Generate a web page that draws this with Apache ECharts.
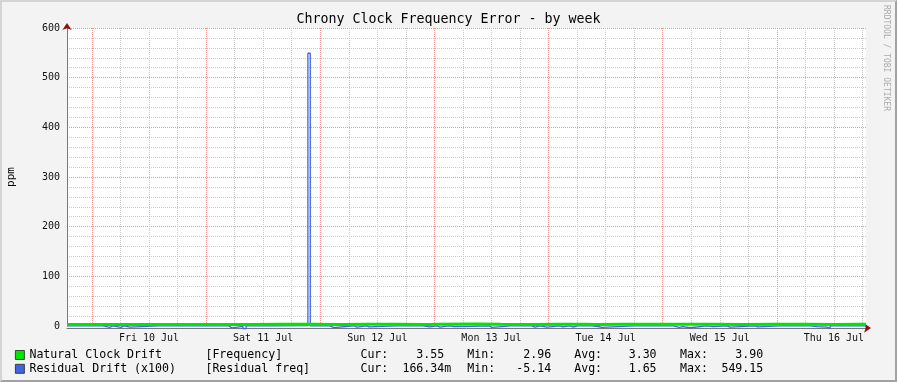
<!DOCTYPE html>
<html><head><meta charset="utf-8">
<script src="https://cdn.jsdelivr.net/npm/echarts@6/dist/echarts.min.js"></script>
<style>
html,body{margin:0;padding:0;background:#f3f3f3}
#wrap{position:relative;width:897px;height:382px}
#c{width:897px;height:382px}
#frame{position:absolute;left:0;top:0;width:897px;height:382px;box-sizing:border-box;border-top:2px solid #d4d4d4;border-left:2px solid #d4d4d4;border-right:2px solid #a2a2a2;border-bottom:2px solid #a2a2a2;pointer-events:none}
</style>
</head><body>
<div id="wrap"><div id="c"></div><div id="frame"></div></div>
<script>
// ---- data ----
const titleText = 'Chrony Clock Frequency Error - by week';
const seriesNames = ['Natural Clock Drift', 'Residual Drift (x100)'];
const seriesSources = ['[Frequency]', '[Residual freq]'];
const curValues = ['3.55', '166.34'];
const curUnits = [' ', 'm'];
const minValues = ['2.96', '-5.14'];
const avgValues = ['3.30', '1.65'];
const maxValues = ['3.90', '549.15'];

// hours relative to Fri 10 Jul 00:00
const startHour = -5.25;
const endHour = 162.75;
const dayLabels = ['Fri 10 Jul', 'Sat 11 Jul', 'Sun 12 Jul', 'Mon 13 Jul', 'Tue 14 Jul', 'Wed 15 Jul', 'Thu 16 Jul'];
const labelHours = [12, 36, 60, 84, 108, 132, 156];
const midnightHours = [0, 24, 48, 72, 96, 120, 144];
const sixHourMarks = [6, 12, 18, 30, 36, 42, 54, 60, 66, 78, 84, 90, 102, 108, 114, 126, 132, 138, 150, 156, 162];
// y grid values (ppm)
const yMajorTicks = [100, 200, 300, 400, 500, 600];
const yMinorTicks = [20, 40, 60, 80, 120, 140, 160, 180, 220, 240, 260, 280, 320, 340, 360, 380, 420, 440, 460, 480, 520, 540, 560, 580];

// Natural Clock Drift (ppm), value holds from each hour to the next
const driftHours = [-5.25, -1.0, 4.5, 10.0, 16.5, 22.0, 27.5, 33.0, 40.0, 46.5, 52.0, 58.5, 64.0, 70.5, 73.0, 80.5, 86.0, 92.0, 98.5, 104.0, 106.0, 111.5, 118.0, 124.0, 130.5, 137.0, 143.5, 150.0, 156.5, 161.0, 162.75];
const driftValues = [3.18, 3.12, 3.05, 2.96, 3.10, 3.22, 3.15, 3.28, 3.35, 3.20, 3.31, 3.42, 3.27, 3.48, 3.90, 3.36, 3.25, 3.40, 3.33, 3.22, 3.70, 3.38, 3.29, 3.44, 3.19, 3.31, 3.37, 3.24, 3.46, 3.55, 3.55];

// Residual Drift (x100)
const residualHours = [-5.25, 2.3, 3.8, 4.4, 6.1, 6.7, 8.0, 14.0, 20.0, 28.8, 29.4, 31.75, 32.4, 38.0, 45.4, 45.9, 50.0, 50.9, 55.1, 55.7, 57.8, 58.25, 64.0, 69.6, 71.1, 72.55, 73.2, 74.2, 75.3, 76.1, 80.1, 83.5, 84.1, 88.0, 92.5, 93.15, 94.2, 95.7, 98.4, 99.0, 100.5, 101.1, 102.2, 102.6, 105.1, 106.4, 107.2, 114.0, 122.2, 123.5, 124.2, 125.75, 129.3, 130.6, 133.5, 134.15, 139.4, 140.0, 144.7, 145.1, 147.2, 147.6, 151.0, 152.5, 154.55, 155.2, 158.0, 162.0, 162.75];
const residualValues = [0.25, -2.6, 0.4, -2.9, 0.3, -2.4, 0.2, 0.5, 0.1, -3.8, -0.9, -5.14, 0.3, 0.6, 549.15, 0.4, -3.2, 0.5, -2.2, 0.3, -1.6, 0.4, 0.2, -1.8, 0.2, -2.3, -0.6, 0.2, -1.2, -0.8, 0.3, -2.7, 0.4, 0.2, -2.4, 0.3, -2.1, 0.2, -1.9, 0.3, -2.0, 0.3, -1.5, 0.3, -1.0, -2.8, 0.4, 0.2, -2.6, -1.2, -3.5, 0.3, -1.4, 0.2, -2.2, 0.3, -1.8, 0.3, -1.6, 0.3, -1.7, 0.3, -1.1, -2.3, -4.6, 0.3, 0.2, 0.166, 0.166];

// ---- chart ----
const greenColor = '#00e600';
const blueColor = '#3f66e0';
const mono = '"DejaVu Sans Mono", monospace';
const pair = (hs, vs) => hs.map((h, i) => [h, vs[i]]);
const padTo = (arr) => { const n = Math.max(...arr.map(s => s.length)); return arr.map(s => s.padStart(n, ' ')); };
const curP = padTo(curValues), minP = padTo(minValues), avgP = padTo(avgValues), maxP = padTo(maxValues);

const rs = (w) => ({ width: w, align: 'left', fontFamily: mono, fontSize: 11.6, color: '#000', lineHeight: 13.4 });
const rich = {
  n: rs(176), s: rs(155),
  lc: rs(42), lm: rs(49), la: rs(54.5), lx: rs(41.4),
  v: rs(0), u: rs(23), u2: rs(23.4)
};
delete rich.v.width;

const chart = echarts.init(document.getElementById('c'), null, { renderer: 'canvas' });
const gridLine = (color) => ({ show: true, lineStyle: { color: color, width: 1, type: [1, 1] } });
const majorColor = '#f09494';
const minorColor = '#cacaca';
const hiddenAxisLine = { show: false };
const noLabel = { show: false };

chart.setOption({
  animation: false,
  backgroundColor: '#f3f3f3',
  title: {
    text: titleText, left: 'center', top: 13, padding: 0,
    textStyle: { fontFamily: mono, fontSize: 13.3, fontWeight: 'normal', color: '#000' }
  },
  grid: { left: 67, right: 31, top: 28, bottom: 56, show: true, backgroundColor: '#fff', borderWidth: 0,
    outerBoundsMode: 'none', containLabel: false },
  legend: {
    data: seriesNames, orient: 'vertical', left: 15, top: 349, itemWidth: 9, itemHeight: 9, itemGap: 1.8,
    padding: 0, selectedMode: false, icon: 'rect',
    itemStyle: { borderColor: '#222', borderWidth: 0.8 },
    textStyle: { fontFamily: mono, fontSize: 11.6, color: '#000', rich: rich },
    formatter: (name) => {
      const i = seriesNames.indexOf(name);
      return '{n|' + name + '}{s|' + seriesSources[i] + '}' +
        '{lc|Cur:}{v|' + curP[i] + '}{u|' + curUnits[i] + '}' +
        '{lm|Min:}{v|' + minP[i] + '}{u|\u00a0}' +
        '{la|Avg:}{v|' + avgP[i] + '}{u2|\u00a0}' +
        '{lx|Max:}{v|' + maxP[i] + '}';
    }
  },
  xAxis: [
    { type: 'value', position: 'bottom', min: startHour, max: endHour,
      axisLine: hiddenAxisLine, axisTick: { show: false, customValues: sixHourMarks },
      axisLabel: noLabel, splitLine: gridLine(minorColor) },
    { type: 'value', position: 'bottom', min: startHour, max: endHour, offset: 2,
      axisLine: { show: true, onZero: false, lineStyle: { color: '#777', width: 1 } },
      axisTick: { show: false, customValues: midnightHours },
      axisLabel: { show: true, customValues: labelHours, margin: 5, fontFamily: mono, fontSize: 10, color: '#111',
        formatter: (v) => dayLabels[labelHours.indexOf(v)] || '' },
      splitLine: gridLine(majorColor) },
    { type: 'value', position: 'bottom', min: startHour, max: endHour, offset: 2,
      axisLine: { show: true, onZero: false, symbol: ['none', 'arrow'], symbolSize: [7, 7], symbolOffset: [0, 5],
        lineStyle: { color: '#8b1010', opacity: 0 } },
      axisTick: { show: false }, axisLabel: noLabel, splitLine: { show: false } }
  ],
  yAxis: [
    { type: 'value', position: 'left', min: 0, max: 600,
      axisLine: hiddenAxisLine, axisTick: { show: false, customValues: yMinorTicks },
      axisLabel: noLabel, splitLine: gridLine(minorColor) },
    { type: 'value', position: 'left', min: 0, max: 600, interval: 100,
      name: 'ppm', nameLocation: 'middle', nameRotate: 90, nameGap: 50,
      nameTextStyle: { fontFamily: mono, fontSize: 11, color: '#000' },
      axisLine: { show: true, onZero: false, lineStyle: { color: '#777', width: 1 } },
      axisTick: { show: false, customValues: yMajorTicks },
      axisLabel: { margin: 7, fontFamily: mono, fontSize: 10, color: '#111' },
      splitLine: gridLine(majorColor) },
    { type: 'value', position: 'left', min: 0, max: 600, interval: 100,
      axisLine: { show: true, onZero: false, symbol: ['none', 'arrow'], symbolSize: [7, 7], symbolOffset: [0, 5],
        lineStyle: { color: '#8b1010', opacity: 0 } },
      axisTick: { show: false }, axisLabel: noLabel, splitLine: { show: false } }
  ],
  graphic: [{
    type: 'text', x: 890, y: 5, rotation: -Math.PI / 2, silent: true,
    style: { text: 'RRDTOOL / TOBI OETIKER', fill: '#ababab', fontFamily: mono, fontSize: 8,
      textAlign: 'left', textVerticalAlign: 'top', verticalAlign: 'top' }
  }],
  series: [
    { name: seriesNames[1], type: 'line', xAxisIndex: 1, yAxisIndex: 1, step: 'end', showSymbol: false, symbol: 'none',
      clip: false, color: blueColor, lineStyle: { width: 1.3, color: blueColor }, z: 3,
      data: pair(residualHours, residualValues) },
    { name: seriesNames[0], type: 'line', xAxisIndex: 1, yAxisIndex: 1, step: 'end', showSymbol: false, symbol: 'none',
      clip: false, color: greenColor, lineStyle: { width: 3, color: greenColor }, z: 4,
      data: pair(driftHours, driftValues) }
  ]
});
</script>
</body></html>
